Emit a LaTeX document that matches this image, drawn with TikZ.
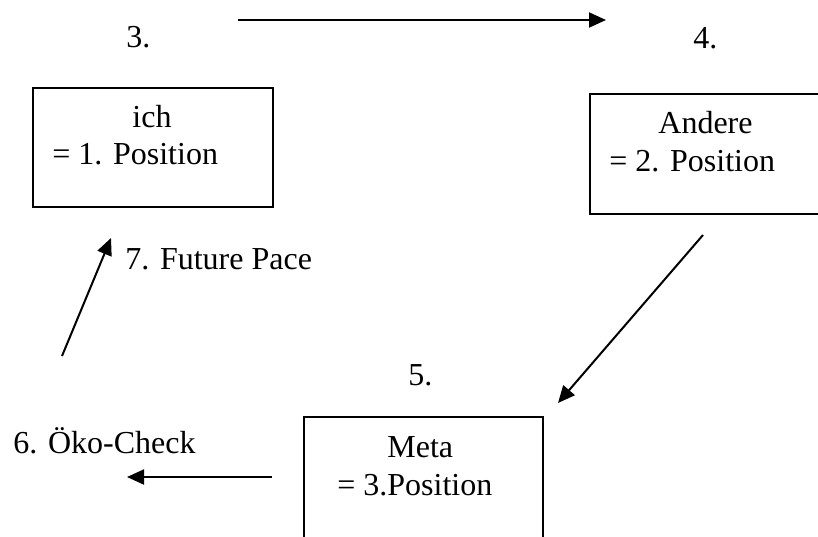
\documentclass[tikz,border=0pt]{standalone}
\usepackage{fontspec}
\setmainfont{Liberation Serif}
\usetikzlibrary{arrows.meta}
\begin{document}
\begin{tikzpicture}[x=0.5pt,y=-0.5pt,
  box/.style={draw,line width=1pt,inner sep=0pt,anchor=north west},
  txt/.style={inner sep=0pt,anchor=base west,font=\fontsize{16}{19}\selectfont},
  arr/.style={line width=1pt,-{Triangle[length=8.5pt,width=7.5pt]}}]
\useasboundingbox (0,0) rectangle (818,536);
\clip (0,0) rectangle (818,536);
% boxes
\node[box,minimum width=120pt,minimum height=59.5pt] (ich) at (32,87) {};
\node[box,minimum width=121pt,minimum height=60pt] (andere) at (589,93) {};
\node[box,minimum width=119.5pt,minimum height=63pt] (meta) at (303,416) {};
% box texts
\node[txt] (ichA) at (132,127) {ich};
\node[txt] (ichB) at (52,164) {= 1. Position};
\node[txt] (andA) at (658,133) {Andere};
\node[txt] (andB) at (609,171) {= 2. Position};
\node[txt] (metaA) at (387,457) {Meta};
\node[txt] (metaB) at (337,495) {= 3.Position};
% step labels
\node[txt] (s3) at (126,47) {3.};
\node[txt] (s4) at (693,48) {4.};
\node[txt] (s5) at (408,385) {5.};
\node[txt] (s6) at (13,453) {6. Öko-Check};
\node[txt] (s7) at (125,269) {7. Future Pace};
% arrow ends
\coordinate (a1) at (238,20);
\coordinate (a2) at (606,20);
\coordinate (b1) at (703,235);
\coordinate (b2) at (558,403);
\coordinate (c1) at (272,477);
\coordinate (c2) at (127,477);
\coordinate (d1) at (62,356);
\coordinate (d2) at (111,238);
\draw[arr] (a1) -- (a2);
\draw[arr] (b1) -- (b2);
\draw[arr] (c1) -- (c2);
\draw[arr] (d1) -- (d2);
\end{tikzpicture}
\end{document}
